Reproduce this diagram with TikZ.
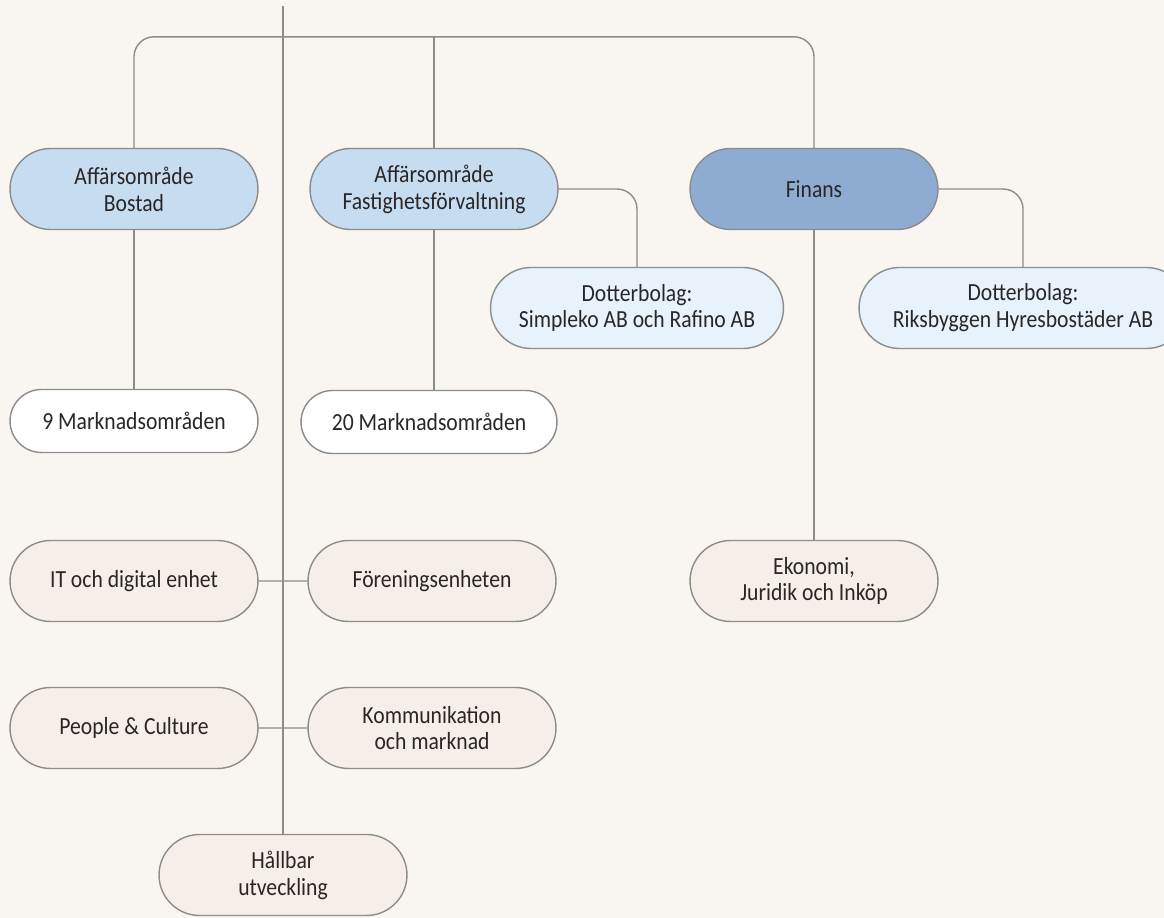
\documentclass[tikz,border=0pt]{standalone}
\usepackage{fontspec}
\setmainfont[FakeStretch=0.88]{Carlito}
\usetikzlibrary{shapes.misc}
\definecolor{bgcol}{HTML}{F9F5F1}
\definecolor{areablue}{HTML}{C6DDF1}
\definecolor{finblue}{HTML}{8EACD2}
\definecolor{subblue}{HTML}{E8F2FB}
\definecolor{unitbeige}{HTML}{F6EEE8}
\definecolor{linegray}{HTML}{8C8C8C}
\definecolor{txt}{HTML}{2A2627}
\tikzset{
  unit/.style={rounded rectangle, draw=linegray, line width=0.8pt, text=txt,
    minimum width=4.96cm, minimum height=1.62cm, inner sep=0pt, align=center,
    font=\fontsize{14}{15.3}\selectfont},
  link/.style={draw=linegray, line width=0.8pt}
}
\begin{document}
\begin{tikzpicture}[x=0.02cm, y=-0.02cm]
\fill[bgcol] (0,0) rectangle (1164,918);
\useasboundingbox (0,0) rectangle (1164,918);
\clip (0,0) rectangle (1164,918);
% business areas
\node[unit, fill=areablue] (bostad) at (134,189){Affärsområde\\Bostad};
\node[unit, fill=areablue] (fast) at (434,189){Affärsområde\\Fastighetsförvaltning};
\node[unit, fill=finblue] (finans) at (814,189){Finans};
% subsidiaries
\node[unit, fill=subblue, minimum width=5.86cm] (simpleko) at (637,308){Dotterbolag:\\Simpleko AB och Rafino AB};
\node[unit, fill=subblue, minimum width=6.56cm] (riks) at (1023,308){Dotterbolag:\\Riksbyggen Hyresbostäder AB};
% market areas
\node[unit, fill=white, minimum height=1.26cm] (mark9) at (134,421){9 Marknadsområden};
\node[unit, fill=white, minimum height=1.26cm, minimum width=5.12cm] (mark20) at (429,422){20 Marknadsområden};
% staff units
\node[unit, fill=unitbeige] (it) at (134,581){IT och digital enhet};
\node[unit, fill=unitbeige] (foren) at (432,581){Föreningsenheten};
\node[unit, fill=unitbeige] (ekon) at (814,581){Ekonomi,\\Juridik och Inköp};
\node[unit, fill=unitbeige] (people) at (134,728){People \& Culture};
\node[unit, fill=unitbeige] (komm) at (432,728){Kommunikation\\och marknad};
\node[unit, fill=unitbeige] (hall) at (283,875){Hållbar\\utveckling};
\coordinate (spine) at (283,6);
\draw[link](spine) -- (hall.north);
\draw[link, rounded corners=0.4cm](bostad.north) -- ++(0,-111) -| (finans.north);
\draw[link](fast.north) -- ++(0,-111);
\draw[link, rounded corners=0.4cm](fast.east) -| (simpleko.north);
\draw[link, rounded corners=0.4cm](finans.east) -| (riks.north);
\draw[link](bostad.south) -- (mark9.north);
\draw[link](fast.south) -- (fast.south |- mark20.north);
\draw[link](finans.south) -- (ekon.north);
\draw[link](it) -- (foren);
\draw[link](people) -- (komm);
\end{tikzpicture}
\end{document}
